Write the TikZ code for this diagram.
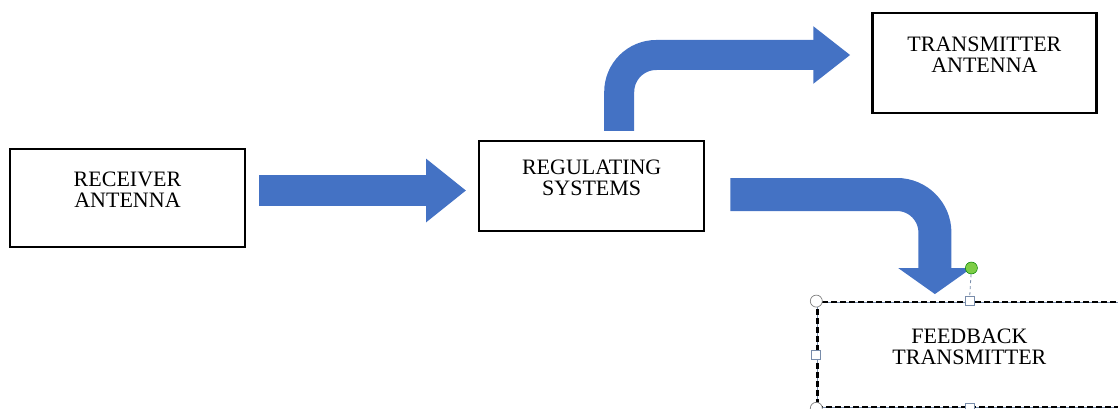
\documentclass[tikz,border=0pt]{standalone}
\usepackage{fontspec}
\setmainfont{Liberation Serif}
\usetikzlibrary{arrows.meta}
\usetikzlibrary{positioning, calc}

\definecolor{arrowblue}{RGB}{68,114,196}
\definecolor{handleedge}{RGB}{120,140,170}
\definecolor{rotgreen}{RGB}{125,205,70}

\tikzset{
  box/.style={rectangle, draw, line width=2.2pt, align=center, text depth=16pt, font=\fontsize{22}{21}\selectfont},
  fatarrow/.style n args={3}{draw=arrowblue, line width=#1, -{Triangle[length=#3, width=#2]}},
  handlesq/.style={rectangle, draw=handleedge, fill=white, line width=0.7pt, minimum size=9pt, inner sep=0pt},
  handlecirc/.style={circle, draw=gray, fill=white, line width=0.7pt, minimum size=12pt, inner sep=0pt}
}

\begin{document}
\begin{tikzpicture}[x=1pt, y=-1pt]
    \useasboundingbox (0,0) rectangle (1118,409);

    % Blocks
    \node [box, minimum width=235pt, minimum height=98pt] (recv) at (127.5,198) {RECEIVER\\ANTENNA};
    \node [box, minimum width=225pt, minimum height=90pt, right=232pt of recv, yshift=12pt] (reg) {REGULATING\\SYSTEMS};
    \node [box, minimum width=224pt, minimum height=100pt, right=166pt of reg, yshift=123pt] (tx) {TRANSMITTER\\ANTENNA};
    \node [box, dash pattern=on 6pt off 3pt, preaction={draw=handleedge, solid, line width=0.8pt}, minimum width=304pt, minimum height=105pt, below=187pt of tx, xshift=-15pt] (fb) {FEEDBACK\\TRANSMITTER};

    % Arrow ends
    \coordinate (a1) at ($(recv.east)+(13,-7.5)$);
    \coordinate (a2) at ($(reg.west)+(-12,4.5)$);
    \coordinate (b1) at ($(reg.north)+(27.5,-9)$);
    \coordinate (b2) at ($(tx.west)+(-21,-8)$);
    \coordinate (c1) at ($(reg.east)+(25,8.5)$);
    \coordinate (c2) at ($(fb.north)+(-34.5,-7)$);

    % Arrows
    \draw [fatarrow={31pt}{61pt}{40pt}] (a1) -- (a2);
    \draw [fatarrow={30pt}{55pt}{37pt}, rounded corners=37pt] (b1) |- (b2);
    \draw [fatarrow={33pt}{72pt}{26pt}, rounded corners=38pt] (c1) -| (c2);

    % Selection handles
    \node [handlesq] (hn) at (fb.north) {};
    \node [handlesq] (hs) at (fb.south) {};
    \node [handlesq] (hw) at (fb.west) {};
    \node [handlecirc] (hnw) at (fb.north west) {};
    \node [handlecirc] (hsw) at (fb.south west) {};
    \node [circle, draw=green!50!black, fill=rotgreen, line width=0.5pt, minimum size=12pt, inner sep=0pt, above=22pt of hn, xshift=2pt] (rot) {};
    \draw [handleedge, dashed, line width=0.8pt] (rot) -- (hn);

\end{tikzpicture}
\end{document}
